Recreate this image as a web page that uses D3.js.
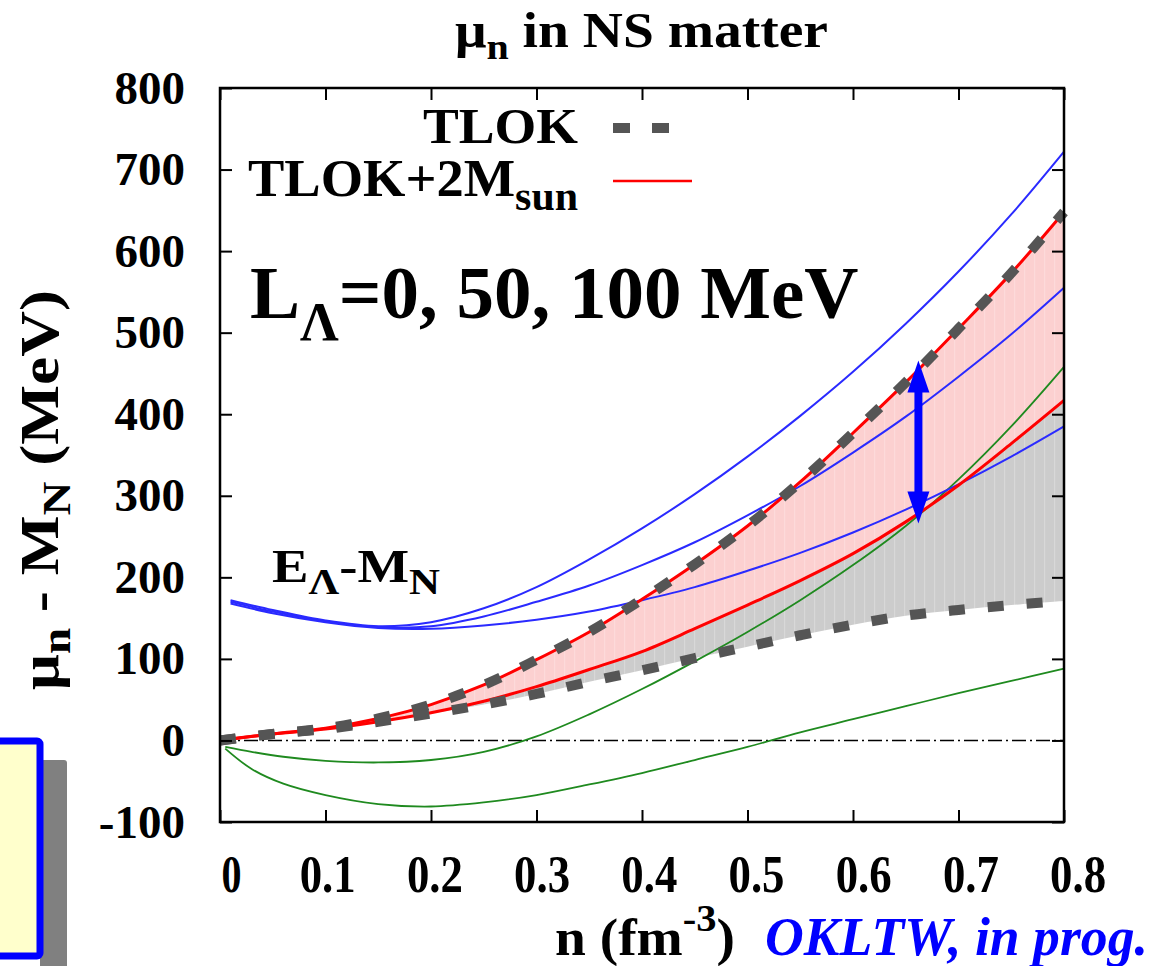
<!DOCTYPE html>
<html>
<head>
<meta charset="utf-8">
<script src="https://cdn.jsdelivr.net/npm/d3@7"></script>
<style>
  body { margin: 0; background: #fff; }
  text { font-family: "Liberation Serif", "Times New Roman", serif; font-weight: bold; }
</style>
</head>
<body>
<svg id="chart" width="1158" height="966"></svg>
<script>
// density grid (fm^-3) and curves (MeV)
const nGrid = [0, 0.05, 0.1, 0.15, 0.2, 0.25, 0.3, 0.35, 0.4, 0.45, 0.5, 0.55, 0.6, 0.65, 0.7, 0.75, 0.8]
const tlokHigh = [0, 8, 15, 27, 44, 68, 99, 133, 173, 216, 263, 317, 377, 439, 505, 573, 648]
const tlokLow = [0, 8, 14, 23, 33, 44, 57, 72, 86, 101, 115, 129, 142, 153, 160, 166, 171]
const redLow = [0, 8, 14, 23, 34, 48, 66, 87, 109, 137, 166, 196, 229, 268, 313, 364, 417]

const nBlue = [0.01, 0.05, 0.1, 0.15, 0.2, 0.25, 0.3, 0.35, 0.4, 0.45, 0.5, 0.55, 0.6, 0.65, 0.7, 0.75, 0.8]
const blueHigh = [172, 160, 147, 140, 145, 162, 188, 222, 260, 302, 348, 398, 452, 511, 575, 645, 722]
const blueMid = [170, 158, 146, 139, 140, 152, 170, 190, 215, 243, 276, 312, 353, 397, 446, 498, 555]
const blueLow = [168, 156, 145, 138, 137, 141, 148, 158, 172, 188, 208, 230, 255, 283, 314, 348, 385]

const nGreen = [0.005, 0.03, 0.06, 0.1, 0.15, 0.2, 0.25, 0.3, 0.35, 0.4, 0.45, 0.5, 0.55, 0.6, 0.65, 0.7, 0.75, 0.8]
const greenHigh = [-8, -14, -20, -25, -27, -24, -14, 5, 32, 63, 97, 133, 172, 215, 263, 320, 385, 458]
const greenLow = [-10, -35, -53, -67, -78, -81, -76, -67, -54, -40, -24, -8, 10, 26, 42, 58, 73, 88]

const xTicks = [0, 0.1, 0.2, 0.3, 0.4, 0.5, 0.6, 0.7, 0.8]
const yTicks = [-100, 0, 100, 200, 300, 400, 500, 600, 700, 800]

// the blue double arrow
const arrowN = 0.662
const arrowFrom = 466
const arrowTo = 266

const svg = d3.select("#chart")

const x = d3.scaleLinear().domain([0, 0.8]).range([220, 1064])
const y = d3.scaleLinear().domain([-100, 800]).range([822, 88])

const defs = svg.append("defs")
function stripes(id, base, line) {
  let p = defs.append("pattern").attr("id", id)
    .attr("patternUnits", "userSpaceOnUse").attr("width", 10).attr("height", 10)
  p.append("rect").attr("width", 10).attr("height", 10).attr("fill", base)
  p.append("rect").attr("x", 4).attr("width", 1.2).attr("height", 10).attr("fill", line)
}
stripes("pinkFill", "#fcd0d0", "#fddada")
stripes("grayFill", "#cccccc", "#d8d8d8")

// slide box in the lower left corner
svg.append("rect").attr("x", 40).attr("y", 760).attr("width", 27).attr("height", 220)
  .attr("rx", 3).attr("fill", "#808080")
svg.append("rect").attr("x", -10).attr("y", 741).attr("width", 50).attr("height", 215)
  .attr("rx", 3).attr("fill", "#ffffcc").attr("stroke", "#0000ff").attr("stroke-width", 7)

const plot = svg.append("g")

const zip = (xs, ys) => xs.map((n, i) => [n, ys[i]])

const line = d3.line().x(d => x(d[0])).y(d => y(d[1])).curve(d3.curveCatmullRom)

// filled bands
const band = (top, bot) => d3.area()
  .x((d, i) => x(nGrid[i]))
  .y0((d, i) => y(bot[i]))
  .y1((d, i) => y(top[i]))
  .curve(d3.curveCatmullRom)(nGrid)

plot.append("path").attr("d", band(tlokHigh, redLow)).attr("fill", "url(#pinkFill)")
plot.append("path").attr("d", band(redLow, tlokLow)).attr("fill", "url(#grayFill)")

// zero line
plot.append("line")
  .attr("x1", x(0)).attr("x2", x(0.8)).attr("y1", y(0)).attr("y2", y(0))
  .attr("stroke", "#000").attr("stroke-width", 1.5).attr("stroke-dasharray", "14,4,2,4")

;[greenHigh, greenLow].forEach(g => {
  plot.append("path").attr("d", line(zip(nGreen, g)))
    .attr("fill", "none").attr("stroke", "#1f8a1f").attr("stroke-width", 1.8)
})

;[blueHigh, blueMid, blueLow].forEach(b => {
  plot.append("path").attr("d", line(zip(nBlue, b)))
    .attr("fill", "none").attr("stroke", "#2a2aff").attr("stroke-width", 2)
})

;[tlokHigh, redLow].forEach(r => {
  plot.append("path").attr("d", line(zip(nGrid, r)))
    .attr("fill", "none").attr("stroke", "#ff0000").attr("stroke-width", 3)
})

;[tlokHigh, tlokLow].forEach(t => {
  plot.append("path").attr("d", line(zip(nGrid, t)))
    .attr("fill", "none").attr("stroke", "#555555").attr("stroke-width", 10)
    .attr("stroke-dasharray", "16,23")
})

// arrow
const ax = x(arrowN), ay1 = y(arrowFrom), ay2 = y(arrowTo)
plot.append("line").attr("x1", ax).attr("x2", ax).attr("y1", ay1 + 25).attr("y2", ay2 - 25)
  .attr("stroke", "#0000ff").attr("stroke-width", 8)
plot.append("path").attr("d", `M${ax},${ay1}L${ax - 11},${ay1 + 32}L${ax + 11},${ay1 + 32}Z`).attr("fill", "#0000ff")
plot.append("path").attr("d", `M${ax},${ay2}L${ax - 11},${ay2 - 32}L${ax + 11},${ay2 - 32}Z`).attr("fill", "#0000ff")

// axes
const xAxis = svg.append("g").attr("transform", "translate(0,822)")
  .call(d3.axisBottom(x).tickValues(xTicks).tickSize(-12).tickPadding(33).tickFormat(d => String(d)))
svg.append("g").attr("transform", "translate(0,88)")
  .call(d3.axisTop(x).tickValues(xTicks).tickSize(-12).tickFormat(""))
const yAxis = svg.append("g").attr("transform", "translate(220,0)")
  .call(d3.axisLeft(y).tickValues(yTicks).tickSize(-12).tickPadding(35).tickFormat(d => String(d)))
svg.append("g").attr("transform", "translate(1064,0)")
  .call(d3.axisRight(y).tickValues(yTicks).tickSize(-12).tickFormat(""))

svg.selectAll(".domain").remove()
svg.selectAll(".tick line").attr("stroke", "#000").attr("stroke-width", 2)
svg.selectAll(".tick text").attr("fill", "#000")
  .style("font-family", '"Liberation Serif", serif').style("font-weight", "bold")
yAxis.selectAll(".tick text").style("font-size", "47px")
xAxis.selectAll(".tick text").style("font-size", "52px")
  .attr("dx", (d, i) => i === 0 ? 11 : i * 1.7)
  .attr("textLength", d => d === 0 ? 20 : 56).attr("lengthAdjust", "spacingAndGlyphs")

svg.append("rect").attr("x", 220).attr("y", 88).attr("width", 844).attr("height", 734)
  .attr("fill", "none").attr("stroke", "#000").attr("stroke-width", 2.5)

// legend
svg.append("text").attr("x", 578).attr("y", 143).attr("text-anchor", "end")
  .style("font-size", "51px").attr("textLength", 155).attr("lengthAdjust", "spacingAndGlyphs")
  .text("TLOK")
svg.append("line").attr("x1", 613).attr("x2", 672).attr("y1", 128).attr("y2", 128)
  .attr("stroke", "#555555").attr("stroke-width", 10).attr("stroke-dasharray", "17,22")
let leg2 = svg.append("text").attr("x", 578).attr("y", 196).attr("text-anchor", "end").style("font-size", "52px")
  .attr("textLength", 330).attr("lengthAdjust", "spacingAndGlyphs")
leg2.append("tspan").text("TLOK+2M")
leg2.append("tspan").attr("dy", 14).style("font-size", "40px").text("sun")
svg.append("line").attr("x1", 613).attr("x2", 692).attr("y1", 181).attr("y2", 181)
  .attr("stroke", "#ff0000").attr("stroke-width", 2.5)

// labels
let title = svg.append("text").attr("x", 455).attr("y", 47).style("font-size", "50px")
  .attr("textLength", 373).attr("lengthAdjust", "spacingAndGlyphs")
title.append("tspan").text("μ")
title.append("tspan").attr("dy", 12).style("font-size", "36px").text("n")
title.append("tspan").attr("dy", -12).text(" in NS matter")

let ylab = svg.append("text").attr("transform", "translate(58,690) rotate(-90)")
  .style("font-size", "54px").attr("textLength", 400).attr("lengthAdjust", "spacingAndGlyphs")
ylab.append("tspan").text("μ")
ylab.append("tspan").attr("dy", 12).style("font-size", "40px").text("n")
ylab.append("tspan").attr("dy", -12).text(" - M")
ylab.append("tspan").attr("dy", 12).style("font-size", "40px").text("N")
ylab.append("tspan").attr("dy", -12).text(" (MeV)")

let xlab = svg.append("text").attr("x", 555).attr("y", 955).style("font-size", "52px")
  .attr("textLength", 180).attr("lengthAdjust", "spacingAndGlyphs")
xlab.append("tspan").text("n (fm")
xlab.append("tspan").attr("dy", -24).style("font-size", "38px").text("-3")
xlab.append("tspan").attr("dy", 24).text(")")

svg.append("text").attr("x", 765).attr("y", 955)
  .style("font-size", "54px").style("font-style", "italic").attr("fill", "#0000ff")
  .attr("textLength", 383).attr("lengthAdjust", "spacingAndGlyphs")
  .text("OKLTW, in prog.")

let lam = svg.append("text").attr("x", 250).attr("y", 318).style("font-size", "75px")
lam.append("tspan").text("L")
lam.append("tspan").attr("dy", 22).style("font-size", "54px").text("Λ")
lam.append("tspan").attr("dy", -22).text("=0, 50, 100 MeV")

let elab = svg.append("text").attr("x", 272).attr("y", 582).style("font-size", "46px")
  .attr("textLength", 168).attr("lengthAdjust", "spacingAndGlyphs")
elab.append("tspan").text("E")
elab.append("tspan").attr("dy", 12).style("font-size", "36px").text("Λ")
elab.append("tspan").attr("dy", -12).text("-M")
elab.append("tspan").attr("dy", 12).style("font-size", "36px").text("N")
</script>
</body>
</html>
